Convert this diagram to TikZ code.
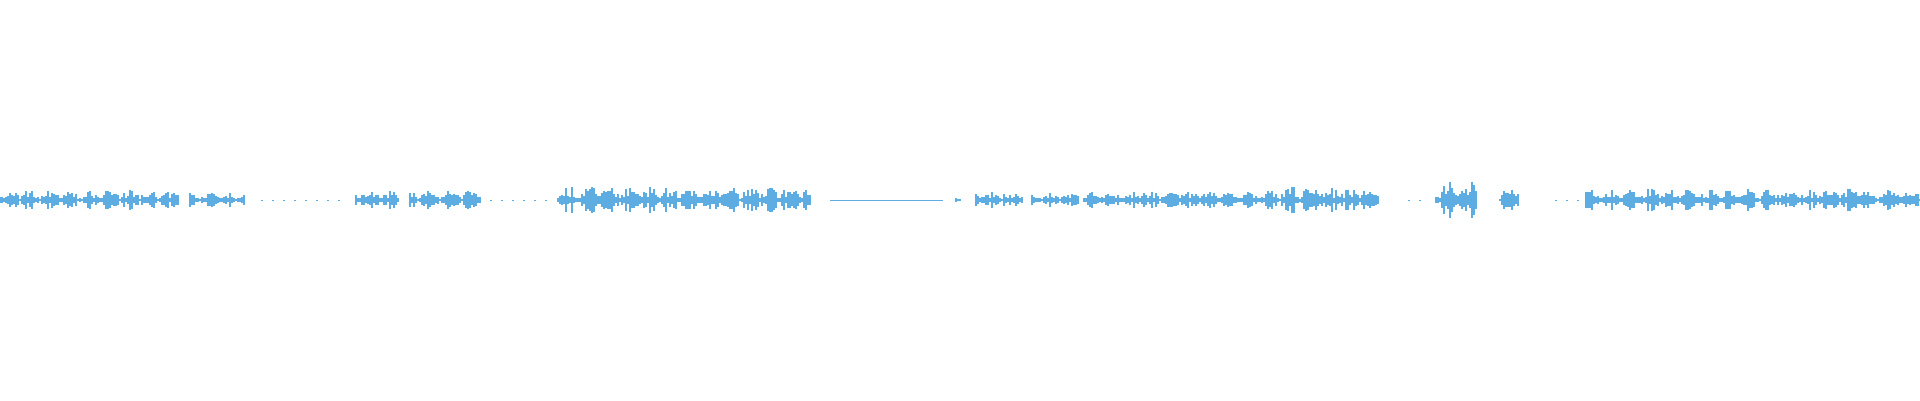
\documentclass[tikz,border=0pt]{standalone}
\definecolor{wave}{HTML}{5DADE2}
\begin{document}
\begin{tikzpicture}[x=1pt,y=-1pt,wv/.style={draw=wave,line width=1.1pt}]
\useasboundingbox (0,0) rectangle (1920,400);
\pgfmathsetseed{11}
\foreach \s/\e/\a in {0/178/10,190/245/7,356/399/10,410/481/11,557/811/14,955/961/4,975/1022/8,1032/1078/7,1084/1267/9,1267/1378/14,1436/1476/20,1500/1519/16,1586/1920/11}{
  \draw[draw=wave,line width=0.6pt] (\s,200) -- (\e,200);
  \foreach \x in {\s,...,\e}{
    \pgfmathsetmacro{\r}{rnd}
    \pgfmathsetmacro{\h}{\a*(0.15+0.85*\r)*(0.3+0.7*abs(sin(mod(\x,40)*9)))+0.5}
    \pgfmathparse{int(mod(\x,2))}
    \ifnum\pgfmathresult=0
      \draw[wv] (\x,200-\h) -- (\x,200+\h);
    \fi
  }
}
\foreach \s/\e in {261/343,490/551,1408/1427,1555/1580}{
  \draw[draw=wave,line width=0.8pt,dash pattern=on 2pt off 9pt] (\s,200) -- (\e,200);
}
\draw[draw=wave,line width=0.6pt] (830,200) -- (943,200);
\end{tikzpicture}
\end{document}
